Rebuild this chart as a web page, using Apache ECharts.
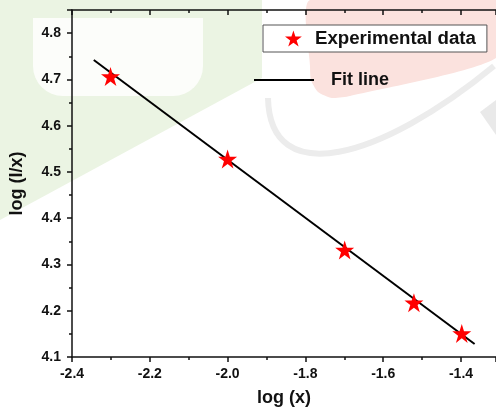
<!DOCTYPE html>
<html>
<head>
<meta charset="utf-8">
<script src="https://cdn.jsdelivr.net/npm/echarts@6/dist/echarts.min.js"></script>
<style>
  html, body { margin: 0; padding: 0; background: #fff; }
  #chart { width: 496px; height: 412px; }
</style>
</head>
<body>
<div id="chart"></div>
<script>
// measured points, log(x) vs log(I/x)
var logX = [-2.301, -2.0, -1.699, -1.521, -1.398];
var logIx = [4.706, 4.528, 4.331, 4.217, 4.151];
// fit line ends
var fitX = [-2.344, -1.365];
var fitY = [4.742, 4.128];

var starPath = 'path://M50,0 L61.8,36.2 L100,36.2 L69.1,58.8 L80.9,95.1 L50,72.4 L19.1,95.1 L30.9,58.8 L0,36.2 L38.2,36.2 Z';
var FONT = 'Liberation Sans, Arial';
var labelFont = {color: '#111', fontWeight: 'bold', fontSize: 14, fontFamily: FONT};
var oneDec = function (v) { return v.toFixed(1); };

// faint watermark behind the plot
var watermark = [
    {type: 'polygon', z: -10, silent: true,
     shape: {points: [[0, 0], [262, 0], [262, 78], [0, 220]]},
     style: {fill: '#ebf4e3'}},
    {type: 'rect', z: -9, silent: true,
     shape: {x: 33, y: 18, width: 170, height: 78, r: [0, 0, 30, 30]},
     style: {fill: '#fcfdfa'}},
    {type: 'polygon', z: -10, silent: true,
     shape: {points: [[310, 0], [496, 0], [496, 58], [350, 96], [332, 98], [318, 92], [311, 80], [310, 66]], smooth: 0.2},
     style: {fill: '#fbe2de'}},
    {type: 'bezierCurve', z: -9, silent: true,
     shape: {x1: 268, y1: 98, x2: 494, y2: 66, cpx1: 270, cpy1: 190, cpx2: 380, cpy2: 160},
     style: {stroke: '#ececec', lineWidth: 6, fill: null}},
    {type: 'polygon', z: -9, silent: true,
     shape: {points: [[496, 100], [480, 112], [496, 135]]},
     style: {fill: '#e9e9e9'}}
];

function fitChart(){
    var option = {
        backgroundColor: '#fff',
        animation: false,
        graphic: watermark,
        grid: {left: 70, right: 0, top: 10, bottom: 50},
        legend: [
            {
                left: 263, top: 25,
                data: [{name: 'Experimental data', icon: starPath}],
                itemWidth: 17, itemHeight: 16,
                padding: [4, 11, 4, 22],
                backgroundColor: '#fff',
                borderColor: '#555', borderWidth: 1,
                selectedMode: false,
                textStyle: {color: '#111', fontWeight: 'bold', fontSize: 18.7, fontFamily: FONT, padding: [0, 0, 0, 8]}
            },
            {
                left: 249, top: 66,
                data: [{name: 'Fit line', icon: 'rect'}],
                itemWidth: 60, itemHeight: 2,
                itemStyle: {color: '#000'},
                selectedMode: false,
                textStyle: {color: '#111', fontWeight: 'bold', fontSize: 18, fontFamily: FONT, padding: [0, 0, 0, 12]}
            }
        ],
        xAxis: [
            {
                type: 'value', min: -2.4, max: -1.31, interval: 0.2,
                name: 'log (x)', nameLocation: 'middle', nameGap: 32,
                nameTextStyle: {color: '#111', fontWeight: 'bold', fontSize: 18, fontFamily: FONT},
                axisLine: {onZero: false, lineStyle: {color: '#111', width: 1.5}},
                axisTick: {length: 5, lineStyle: {color: '#111', width: 1.5}},
                minorTick: {show: true, splitNumber: 2, length: 3, lineStyle: {color: '#111', width: 1.5}},
                axisLabel: Object.assign({margin: 10, showMaxLabel: false, formatter: oneDec}, labelFont),
                splitLine: {show: false}
            },
            {
                type: 'value', position: 'top', min: -2.4, max: -1.31, interval: 0.2,
                axisLine: {onZero: false, lineStyle: {color: '#111', width: 1.5}},
                axisTick: {inside: true, length: 5, lineStyle: {color: '#111', width: 1.5}},
                minorTick: {show: true, splitNumber: 2, length: 3, lineStyle: {color: '#111', width: 1.5}},
                axisLabel: {show: false},
                splitLine: {show: false}
            }
        ],
        yAxis: [
            {
                type: 'value', min: 4.1, max: 4.85, interval: 0.1,
                name: 'log (I/x)', nameLocation: 'middle', nameGap: 46,
                nameTextStyle: {color: '#111', fontWeight: 'bold', fontSize: 18, fontFamily: FONT},
                axisLine: {show: true, onZero: false, lineStyle: {color: '#111', width: 1.5}},
                axisTick: {show: true, length: 5, lineStyle: {color: '#111', width: 1.5}},
                minorTick: {show: true, splitNumber: 2, length: 3, lineStyle: {color: '#111', width: 1.5}},
                axisLabel: Object.assign({margin: 11, showMaxLabel: false, formatter: oneDec}, labelFont),
                splitLine: {show: false}
            }
        ],
        series: [
            {
                name: 'Fit line',
                type: 'line',
                symbol: 'none',
                z: 2,
                lineStyle: {color: '#000', width: 2},
                itemStyle: {color: '#000'},
                data: fitX.map(function (x, i) { return [x, fitY[i]]; })
            },
            {
                name: 'Experimental data',
                type: 'scatter',
                symbol: starPath,
                symbolSize: 19,
                z: 3,
                itemStyle: {color: '#ff0000', opacity: 1},
                data: logX.map(function (x, i) { return [x, logIx[i]]; })
            }
        ]
    };
    var myChart = echarts.init(document.getElementById('chart'));
    myChart.setOption(option);
}
fitChart();
</script>
</body>
</html>
